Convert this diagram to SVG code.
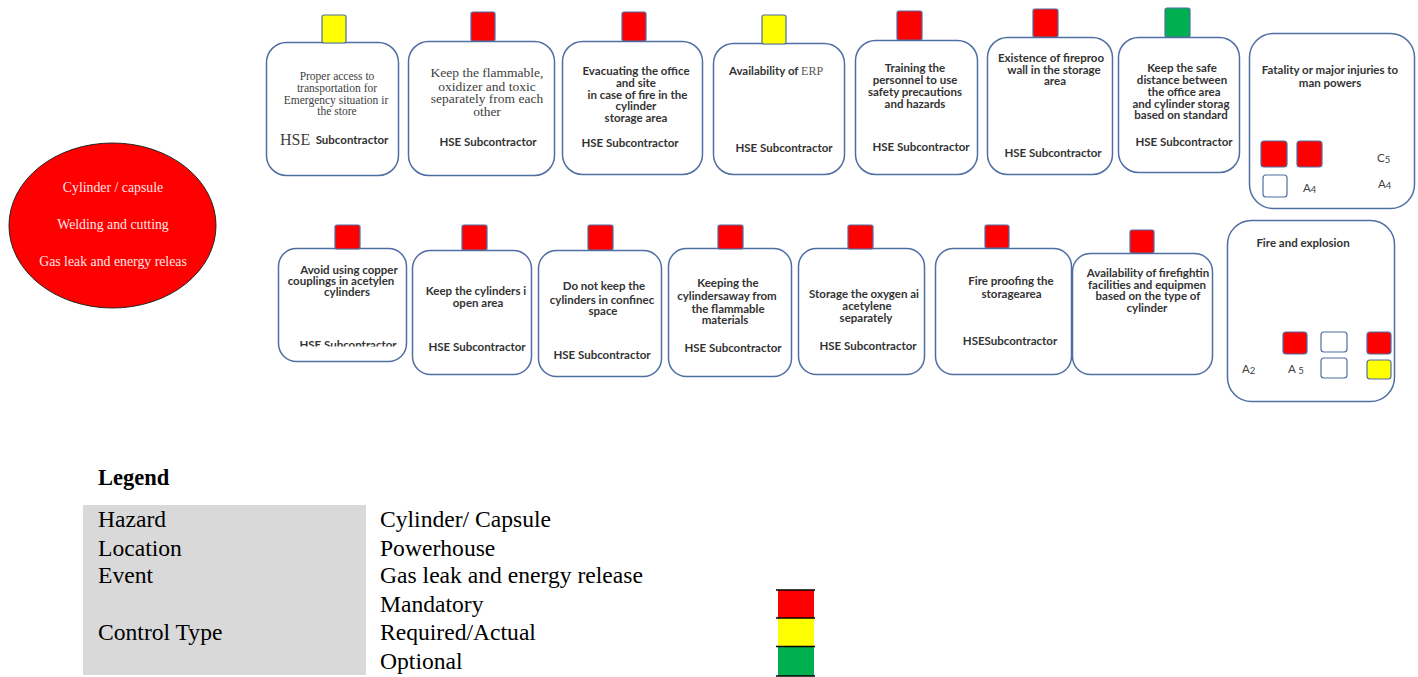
<svg xmlns="http://www.w3.org/2000/svg" width="1418" height="677" viewBox="0 0 1418 677">
<defs>
<style>
.box{fill:#fff;stroke:#4f6fa3;stroke-width:1.5}
.tab{stroke:#4f6fa3;stroke-width:1.2}
.red{fill:#ff0000}.yel{fill:#ffff00}.grn{fill:#00b050}.wht{fill:#fff}
.s{font-family:Lato,"Liberation Sans",sans-serif;font-weight:bold;font-size:11.5px;fill:#333;text-anchor:middle}
.r{font-family:"Liberation Serif",serif;fill:#404040;text-anchor:middle}
.lab{font-family:Lato,"Liberation Sans",sans-serif;font-size:11.5px;fill:#404040}
.lg{font-family:"Liberation Serif","Times New Roman",serif;font-size:23.6px;fill:#000}
.ct{font-family:"Liberation Serif",serif;font-size:13.8px;fill:#ffe6e6;text-anchor:middle}
</style>
<clipPath id="c1"><rect x="270" y="300" width="140" height="46.5"/></clipPath>
<clipPath id="c2"><rect x="38" y="240" width="149" height="40"/></clipPath>
</defs>
<g id="connectors"/>
<g id="hazard">
<ellipse cx="112.5" cy="225.5" rx="103.5" ry="82.5" fill="#ff0000" stroke="#222" stroke-width="1"/>
<text class="ct" x="113" y="192">Cylinder / capsule</text>
<text class="ct" x="113" y="229">Welding and cutting</text>
<text class="ct" x="113" y="266" clip-path="url(#c2)">Gas leak and energy releas</text>
</g>
<g id="t1">
<rect class="box" x="266.5" y="42.5" width="132" height="133" rx="20"/>
<rect class="tab yel" x="322" y="15" width="24" height="28" rx="2"/>
<text class="r" font-size="11.5px"><tspan x="337" y="80">Proper access to</tspan><tspan x="337" y="92">transportation for</tspan><tspan x="336" y="104">Emergency  situation ir</tspan><tspan x="337" y="115">the store</tspan></text>
<text x="280" y="145" font-family="Liberation Serif,serif" font-size="16px" fill="#404040">HSE</text>
<text x="352" y="144" class="s">Subcontractor</text>
</g>
<g id="t2">
<rect class="box" x="408.5" y="41.5" width="146" height="134" rx="20"/>
<rect class="tab red" x="471" y="12" width="24" height="29" rx="2"/>
<text class="r" font-size="13.5px"><tspan x="487" y="77">Keep the flammable,</tspan><tspan x="487" y="90.5">oxidizer and toxic</tspan><tspan x="487" y="103">separately  from each</tspan><tspan x="487" y="115.5">other</tspan></text>
<text x="488" y="146" class="s">HSE  Subcontractor</text>
</g>
<g id="t3">
<rect class="box" x="562.5" y="41.5" width="140" height="133" rx="20"/>
<rect class="tab red" x="622" y="12" width="24" height="29" rx="2"/>
<text class="s"><tspan x="636" y="75">Evacuating the office</tspan><tspan x="636" y="86.5">and site</tspan><tspan x="636" y="98.5"> in case of fire in the</tspan><tspan x="636" y="110">cylinder</tspan><tspan x="636" y="122">storage area</tspan></text>
<text x="630" y="147" class="s">HSE  Subcontractor</text>
</g>
<g id="t4">
<rect class="box" x="713.5" y="43.5" width="131" height="131" rx="20"/>
<rect class="tab yel" x="762" y="15" width="24" height="29" rx="2"/>
<text x="776" y="75" class="s">Availability of <tspan font-family="Liberation Serif,serif" font-weight="normal" font-size="12px" fill="#555">ERP</tspan></text>
<text x="784" y="152" class="s">HSE  Subcontractor</text>
</g>
<g id="t5">
<rect class="box" x="855.5" y="40.5" width="122" height="134" rx="20"/>
<rect class="tab red" x="897" y="11" width="25" height="29" rx="2"/>
<text class="s"><tspan x="915" y="72">Training the</tspan><tspan x="915" y="84">personnel to use</tspan><tspan x="915" y="96">safety precautions</tspan><tspan x="915" y="108">and hazards</tspan></text>
<text x="921" y="151" class="s">HSE  Subcontractor</text>
</g>
<g id="t6">
<rect class="box" x="987.5" y="37.5" width="125" height="137" rx="20"/>
<rect class="tab red" x="1033" y="9" width="25" height="28" rx="2"/>
<text class="s"><tspan x="1051" y="62">Existence of fireproo</tspan><tspan x="1054" y="73.5">wall in the storage</tspan><tspan x="1055" y="85">area</tspan></text>
<text x="1053" y="157" class="s">HSE Subcontractor</text>
</g>
<g id="t7">
<rect class="box" x="1118.5" y="37.5" width="121" height="135" rx="20"/>
<rect class="tab grn" x="1165" y="8" width="25" height="29" rx="2"/>
<text class="s"><tspan x="1182" y="72">Keep the safe</tspan><tspan x="1182" y="84">distance between</tspan><tspan x="1184" y="96">the office area</tspan><tspan x="1181" y="108">and cylinder storag</tspan><tspan x="1181" y="119">based on standard</tspan></text>
<text x="1184" y="146" class="s">HSE  Subcontractor</text>
</g>
<g id="c-fatality">
<rect class="box" x="1249.5" y="33.5" width="165" height="175" rx="24"/>
<text class="s"><tspan x="1330" y="74">Fatality or major injuries to</tspan><tspan x="1330" y="87">man powers</tspan></text>
<rect class="tab red" x="1261" y="141" width="26" height="26" rx="3"/>
<rect class="tab red" x="1297" y="141" width="25" height="26" rx="3"/>
<rect class="tab wht" x="1263" y="175" width="24" height="22" rx="3"/>
<text class="lab" x="1377" y="162">C<tspan font-size="9.5px" dy="1">5</tspan></text>
<text class="lab" x="1303" y="192">A<tspan font-size="9.5px" dy="1">4</tspan></text>
<text class="lab" x="1378" y="188">A<tspan font-size="9.5px" dy="1">4</tspan></text>
</g>
<g id="b1">
<rect class="box" x="278.5" y="248.5" width="128" height="113" rx="18"/>
<rect class="tab red" x="335" y="225" width="25" height="24" rx="2"/>
<text class="s"><tspan x="349" y="273.5">Avoid using copper</tspan><tspan x="341" y="285">couplings in acetylen</tspan><tspan x="347" y="296">cylinders</tspan></text>
<text x="348" y="348.5" class="s" clip-path="url(#c1)">HSE Subcontractor</text>
</g>
<g id="b2">
<rect class="box" x="412.5" y="250.5" width="119" height="124" rx="18"/>
<rect class="tab red" x="462" y="225" width="25" height="25" rx="2"/>
<text class="s"><tspan x="476" y="295">Keep the cylinders i</tspan><tspan x="478" y="307">open area</tspan></text>
<text x="477" y="351" class="s">HSE  Subcontractor</text>
</g>
<g id="b3">
<rect class="box" x="538.5" y="250.5" width="123" height="126" rx="18"/>
<rect class="tab red" x="588" y="225" width="25" height="25" rx="2"/>
<text class="s"><tspan x="604" y="290">Do not keep the</tspan><tspan x="602" y="303.5">cylinders in confinec</tspan><tspan x="603" y="315">space</tspan></text>
<text x="602" y="358.5" class="s">HSE  Subcontractor</text>
</g>
<g id="b4">
<rect class="box" x="668.5" y="248.5" width="123" height="128" rx="18"/>
<rect class="tab red" x="718" y="225" width="25" height="24" rx="2"/>
<text class="s"><tspan x="728" y="287">Keeping the</tspan><tspan x="727" y="300">cylindersaway  from</tspan><tspan x="728" y="313">the flammable</tspan><tspan x="725" y="324">materials</tspan></text>
<text x="733" y="352" class="s">HSE Subcontractor</text>
</g>
<g id="b5">
<rect class="box" x="798.5" y="248.5" width="126" height="126" rx="18"/>
<rect class="tab red" x="848" y="225" width="25" height="24" rx="2"/>
<text class="s"><tspan x="864" y="297.5">Storage the oxygen ai</tspan><tspan x="867" y="310">acetylene</tspan><tspan x="866" y="322">separately</tspan></text>
<text x="868" y="349.5" class="s">HSE  Subcontractor</text>
</g>
<g id="b6">
<rect class="box" x="935.5" y="248.5" width="136" height="126" rx="18"/>
<rect class="tab red" x="985" y="225" width="24" height="23" rx="2"/>
<text class="s"><tspan x="1011" y="285">Fire proofing the</tspan><tspan x="1011.5" y="297.5">storagearea</tspan></text>
<text x="1010" y="345" class="s">HSESubcontractor</text>
</g>
<g id="b7">
<rect class="box" x="1072.5" y="253.5" width="140" height="121" rx="18"/>
<rect class="tab red" x="1130" y="230" width="24" height="23" rx="2"/>
<text class="s"><tspan x="1148" y="277">Availability of firefightin</tspan><tspan x="1147" y="289">facilities and equipmen</tspan><tspan x="1148" y="300">based on the type of</tspan><tspan x="1147" y="312">cylinder</tspan></text>
</g>
<g id="c-fire">
<rect class="box" x="1227.5" y="220.5" width="167" height="181" rx="24"/>
<text x="1303" y="247" class="s">Fire and explosion</text>
<rect class="tab red" x="1283" y="332" width="24" height="22" rx="3"/>
<rect class="tab wht" x="1321" y="332" width="26" height="20" rx="3"/>
<rect class="tab red" x="1367" y="332" width="24" height="22" rx="3"/>
<rect class="tab wht" x="1321" y="358" width="26" height="20" rx="3"/>
<rect class="tab yel" x="1367" y="360" width="24" height="19" rx="3"/>
<text class="lab" x="1242" y="373">A<tspan font-size="9.5px" dy="1">2</tspan></text>
<text class="lab" x="1288" y="373">A <tspan font-size="9.5px" dy="1">5</tspan></text>
</g>
<g id="legend">
<text x="98" y="485" font-family="Liberation Serif,serif" font-weight="bold" font-size="22.5px" fill="#000">Legend</text>
<rect x="83" y="505" width="283" height="170" fill="#d9d9d9"/>
<text class="lg" x="98" y="527">Hazard</text>
<text class="lg" x="98" y="556">Location</text>
<text class="lg" x="98" y="583">Event</text>
<text class="lg" x="98" y="640">Control Type</text>
<text class="lg" x="380" y="527">Cylinder/ Capsule</text>
<text class="lg" x="380" y="556">Powerhouse</text>
<text class="lg" x="380" y="583">Gas leak and energy release</text>
<text class="lg" x="380" y="612">Mandatory</text>
<text class="lg" x="380" y="640">Required/Actual</text>
<text class="lg" x="380" y="669">Optional</text>
<rect x="778" y="590" width="36" height="28" fill="#ff0000"/>
<rect x="778" y="618" width="36" height="28" fill="#ffff00"/>
<rect x="778" y="646" width="36" height="30" fill="#00b050"/>
<g stroke="#000" stroke-width="1.5"><line x1="776" y1="590" x2="815" y2="590"/><line x1="776" y1="618" x2="815" y2="618"/><line x1="776" y1="646.5" x2="815" y2="646.5"/><line x1="776" y1="676" x2="815" y2="676"/></g>
</g>
</svg>
